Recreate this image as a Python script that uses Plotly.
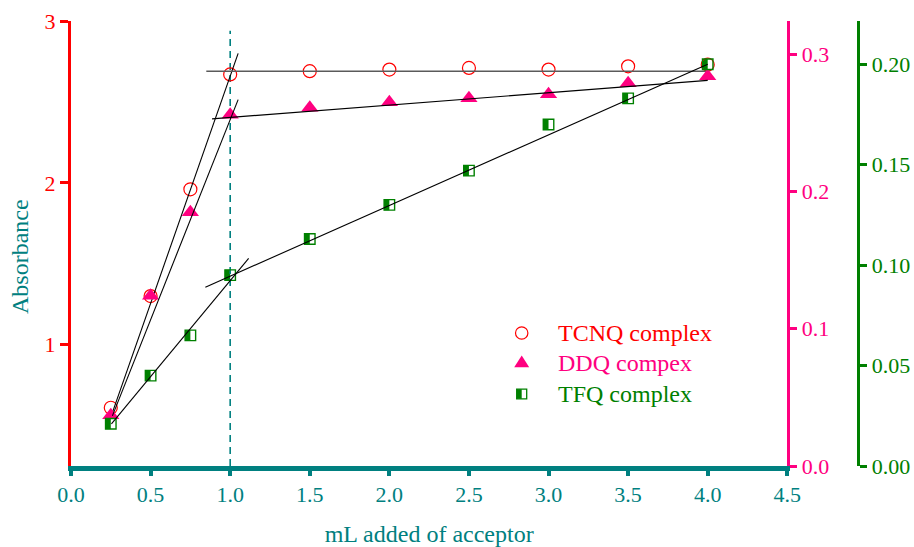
import plotly.graph_objects as go

# Volume of acceptor added (mL)
volume_ml = [0.25, 0.5, 0.75, 1.0, 1.5, 2.0, 2.5, 3.0, 3.5, 4.0]

# Absorbance readings for each charge-transfer complex
tcnq_abs = [0.61, 1.30, 1.96, 2.67, 2.69, 2.70, 2.71, 2.70, 2.72, 2.73]
ddq_abs = [0.037, 0.124, 0.185, 0.256, 0.261, 0.265, 0.268, 0.271, 0.279, 0.284]
tfq_abs = [0.021, 0.045, 0.065, 0.095, 0.113, 0.130, 0.147, 0.170, 0.183, 0.200]

# Straight-line segments used to locate the break point (x pairs, y pairs)
tcnq_rise_x, tcnq_rise_y = [0.26, 1.05], [0.58, 2.80]
tcnq_flat_x, tcnq_flat_y = [0.85, 4.0], [2.69, 2.69]
ddq_rise_x, ddq_rise_y = [0.26, 1.05], [0.0365, 0.267]
ddq_flat_x, ddq_flat_y = [0.886, 4.0], [0.253, 0.281]
tfq_rise_x, tfq_rise_y = [0.254, 1.116], [0.021, 0.1033]
tfq_flat_x, tfq_flat_y = [0.844, 4.0], [0.089, 0.200]

# Break point marked by the dashed guide
break_ml = 1.0

x_ticks = [0.0, 0.5, 1.0, 1.5, 2.0, 2.5, 3.0, 3.5, 4.0, 4.5]
left_ticks = [1, 2, 3]
pink_ticks = [0.0, 0.1, 0.2, 0.3]
green_ticks = [0.0, 0.05, 0.10, 0.15, 0.20]

legend_labels = ["TCNQ complex", "DDQ compex", "TFQ complex"]

TEAL = "#008080"
RED = "#FF0000"
PINK = "#FF0080"
GREEN = "#008000"
FONT = "'Liberation Serif', 'Times New Roman', Times, 'DejaVu Serif', serif"

# Figure geometry (pixels)
W, H = 914, 547
M_L, M_R, M_T, M_B = 71, 10, 21, 81
PAPER_W = W - M_L - M_R
PAPER_H = H - M_T - M_B


def paper_x(px):
    return (px - M_L) / PAPER_W


def paper_y(py):
    return (H - M_B - py) / PAPER_H


fig = go.Figure()

fig.add_trace(go.Scatter(
    x=volume_ml, y=tcnq_abs, mode="markers", yaxis="y", name=legend_labels[0],
    marker=dict(symbol="circle-open", size=13, color=RED, line=dict(width=1.2, color=RED)),
))
fig.add_trace(go.Scatter(
    x=volume_ml, y=ddq_abs, mode="markers", yaxis="y2", name=legend_labels[1],
    marker=dict(symbol="triangle-up", size=15, color=PINK, line=dict(width=0)),
))
fig.add_trace(go.Scatter(
    x=volume_ml, y=tfq_abs, mode="markers", yaxis="y3", name=legend_labels[2],
    marker=dict(symbol="square", size=10.5, color="rgba(255,255,255,0)",
                line=dict(width=1.4, color=GREEN)),
))

# Fitted line segments
segments = [
    (tcnq_rise_x, tcnq_rise_y, "y", "#000000", 1.1),
    (tcnq_flat_x, tcnq_flat_y, "y", "#5a5a5a", 1.5),
    (ddq_rise_x, ddq_rise_y, "y2", "#000000", 1.1),
    (ddq_flat_x, ddq_flat_y, "y2", "#000000", 1.2),
    (tfq_rise_x, tfq_rise_y, "y3", "#000000", 1.1),
    (tfq_flat_x, tfq_flat_y, "y3", "#000000", 1.1),
]
for sx, sy, ax, col, w in segments:
    fig.add_trace(go.Scatter(x=sx, y=sy, mode="lines", yaxis=ax,
                             hoverinfo="skip", line=dict(color=col, width=w)))

# Half-filled squares: solid left half under each TFQ marker
shapes = []
for xv, yv in zip(volume_ml, tfq_abs):
    shapes.append(dict(
        type="rect", xref="x", yref="y3", layer="below",
        xsizemode="pixel", xanchor=xv, x0=-5.3, x1=0,
        ysizemode="pixel", yanchor=yv, y0=-5.3, y1=5.3,
        fillcolor=GREEN, line=dict(width=0),
    ))

# Dashed guide at the break point
shapes.append(dict(type="line", xref="x", yref="y", x0=break_ml, x1=break_ml,
                   y0=0.25, y1=2.94, layer="below",
                   line=dict(color=TEAL, width=1.6, dash="7px,5px")))

# Key: symbols and coloured labels
key_sym_x = paper_x(521.7)
key_text_x = paper_x(556)
key_rows = [paper_y(333), paper_y(362.7), paper_y(394)]
key_colors = [RED, PINK, GREEN]


def key_shape(kind, yrow, **kw):
    base = dict(type=kind, xref="paper", yref="paper",
                xsizemode="pixel", xanchor=key_sym_x,
                ysizemode="pixel", yanchor=yrow, layer="above")
    base.update(kw)
    return base


shapes.append(key_shape("circle", key_rows[0], x0=-6.2, x1=6.2, y0=-6.2, y1=6.2,
                        line=dict(color=RED, width=1.2)))
shapes.append(key_shape("path", key_rows[1], path="M-7.5,-4.6 L7.5,-4.6 L0,7.2 Z",
                        fillcolor=PINK, line=dict(width=0)))
shapes.append(key_shape("rect", key_rows[2], x0=-5, x1=0, y0=-4.8, y1=4.8,
                        fillcolor=GREEN, line=dict(width=0)))
shapes.append(key_shape("rect", key_rows[2], x0=-5, x1=5, y0=-4.8, y1=4.8,
                        line=dict(color=GREEN, width=1.3)))

annotations = [dict(
    text="Absorbance", xref="paper", yref="paper",
    x=paper_x(20), y=paper_y(257), xanchor="center", yanchor="middle",
    textangle=-90, showarrow=False,
    font=dict(family=FONT, size=24, color=TEAL),
)]
for label, col, yrow in zip(legend_labels, key_colors, key_rows):
    annotations.append(dict(
        text=label, xref="paper", yref="paper", x=key_text_x, y=yrow,
        xanchor="left", yanchor="middle", showarrow=False,
        font=dict(family=FONT, size=24, color=col),
    ))

fig.update_layout(
    width=W, height=H,
    margin=dict(l=M_L, r=M_R, t=M_T, b=M_B, autoexpand=False),
    paper_bgcolor="white", plot_bgcolor="white",
    font=dict(family=FONT, size=22),
    shapes=shapes,
    annotations=annotations,
    showlegend=False,
    xaxis=dict(
        domain=[0, paper_x(787.3)], range=[0, 4.5], tickvals=x_ticks,
        ticktext=[f"{v:.1f}" for v in x_ticks],
        showline=True, linecolor=TEAL, linewidth=5, mirror=False,
        ticks="outside", ticklen=5, tickwidth=3.5, tickcolor=TEAL,
        tickfont=dict(family=FONT, size=22, color=TEAL),
        showgrid=False, zeroline=False, automargin=False,
        title=dict(text="mL added of acceptor", standoff=22,
                   font=dict(family=FONT, size=24, color=TEAL)),
    ),
    yaxis=dict(
        range=[0.25, 3], tickvals=left_ticks, ticktext=[str(v) for v in left_ticks],
        showline=True, linecolor=RED, linewidth=3,
        ticks="outside", ticklen=8, tickwidth=3, tickcolor=RED,
        tickfont=dict(family=FONT, size=22, color=RED),
        showgrid=False, zeroline=False, automargin=False,
    ),
    yaxis2=dict(
        overlaying="y", side="right", anchor="x",
        range=[0, 0.3243], tickvals=pink_ticks, ticktext=[f"{v:.1f}" for v in pink_ticks],
        showline=True, linecolor=PINK, linewidth=3,
        ticks="outside", ticklen=7, tickwidth=3, tickcolor=PINK,
        tickfont=dict(family=FONT, size=22, color=PINK),
        showgrid=False, zeroline=False, automargin=False,
    ),
    yaxis3=dict(
        overlaying="y", side="right", anchor="free", position=paper_x(858.3),
        range=[0, 0.2215], tickvals=green_ticks, ticktext=[f"{v:.2f}" for v in green_ticks],
        showline=True, linecolor=GREEN, linewidth=3,
        ticks="outside", ticklen=7, tickwidth=3, tickcolor=GREEN,
        tickfont=dict(family=FONT, size=22, color=GREEN),
        showgrid=False, zeroline=False, automargin=False,
    ),
)

fig.write_html("out.html")
